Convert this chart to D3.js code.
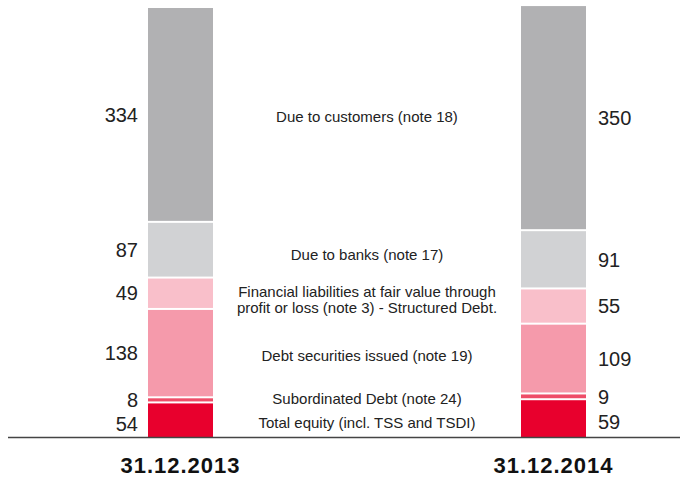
<!DOCTYPE html>
<html>
<head>
<meta charset="utf-8">
<script src="https://cdn.jsdelivr.net/npm/d3@7"></script>
<style>
  body { margin: 0; background: #fff; }
  text { font-family: "Liberation Sans", Arial, sans-serif; }
</style>
</head>
<body>
<div id="chart-container"></div>
<script>
// data, bottom to top
const years = ["31.12.2013", "31.12.2014"];
const categories = [
  "Total equity (incl. TSS and TSDI)",
  "Subordinated Debt (note 24)",
  "Debt securities issued (note 19)",
  "Financial liabilities at fair value through|profit or loss (note 3) - Structured Debt.",
  "Due to banks (note 17)",
  "Due to customers (note 18)"
];
const values2013 = [54, 8, 138, 49, 87, 334];
const values2014 = [59, 9, 109, 55, 91, 350];
const colors = ["#e8002d", "#ee4d68", "#f59aab", "#f9bfca", "#d1d2d4", "#b1b1b3"];

const width = 680, height = 477;
const baseline = 437;

const svg = d3.select("#chart-container")
  .append("svg")
  .attr("width", width)
  .attr("height", height);

const x = d3.scalePoint()
  .domain(years)
  .range([180.5, 553.5]);
const barWidth = 65;

const y = d3.scaleLinear()
  .domain([0, 670])
  .range([baseline, 8]);

// build stacks
const series = [values2013, values2014].map((vals, i) => {
  let acc = 0;
  return vals.map((v, j) => {
    const d = { year: years[i], cat: j, value: v, y0: acc, y1: acc + v };
    acc += v;
    return d;
  });
});

const last = categories.length - 1;
const bars = svg.append("g");
series.forEach(stack => {
  bars.selectAll(null)
    .data(stack)
    .enter().append("rect")
    .attr("x", d => x(d.year) - barWidth / 2)
    .attr("width", barWidth)
    .attr("y", d => y(d.y1) + (d.cat === last ? 0 : 1))
    .attr("height", d => y(d.y0) - y(d.y1) - (d.cat === last ? 1 : 2) + (d.cat === 0 ? 1 : 0))
    .style("fill", d => colors[d.cat]);
});

// value labels (the bottom one sits a little lower so it clears the thin segment above)
const mid = d => (y(d.y0) + y(d.y1)) / 2 + (d.cat === 0 ? 4 : 0);

svg.append("g").selectAll("text")
  .data(series[0])
  .enter().append("text")
  .attr("x", x(years[0]) - barWidth / 2 - 10)
  .attr("y", d => mid(d))
  .attr("dy", "0.36em")
  .attr("text-anchor", "end")
  .style("font-size", "20px")
  .style("fill", "#222")
  .text(d => d.value);

svg.append("g").selectAll("text")
  .data(series[1])
  .enter().append("text")
  .attr("x", x(years[1]) + barWidth / 2 + 12)
  .attr("y", d => mid(d))
  .attr("dy", "0.36em")
  .attr("text-anchor", "start")
  .style("font-size", "20px")
  .style("fill", "#222")
  .text(d => d.value);

// category labels in the middle, one text element per line
const cx = (x(years[0]) + x(years[1])) / 2;
const lineH = 16;
const catG = svg.append("g");
categories.forEach((c, j) => {
  const cy = (mid(series[0][j]) + mid(series[1][j])) / 2;
  const lines = c.split("|");
  lines.forEach((l, k) => {
    catG.append("text")
      .attr("x", cx)
      .attr("y", cy - (lines.length - 1) * lineH / 2 + k * lineH)
      .attr("dy", "0.36em")
      .attr("text-anchor", "middle")
      .style("font-size", "15px")
      .style("fill", "#222")
      .text(l);
  });
});

// baseline
svg.append("line")
  .attr("x1", 8).attr("x2", 680)
  .attr("y1", baseline + 0.5).attr("y2", baseline + 0.5)
  .style("stroke", "#444")
  .style("stroke-width", 1.5);

// year labels
svg.append("g").selectAll("text")
  .data(years)
  .enter().append("text")
  .attr("x", d => x(d))
  .attr("y", 473)
  .attr("text-anchor", "middle")
  .style("font-size", "22px")
  .style("font-weight", "bold")
  .style("letter-spacing", "1px")
  .style("fill", "#111")
  .text(d => d);
</script>
</body>
</html>
